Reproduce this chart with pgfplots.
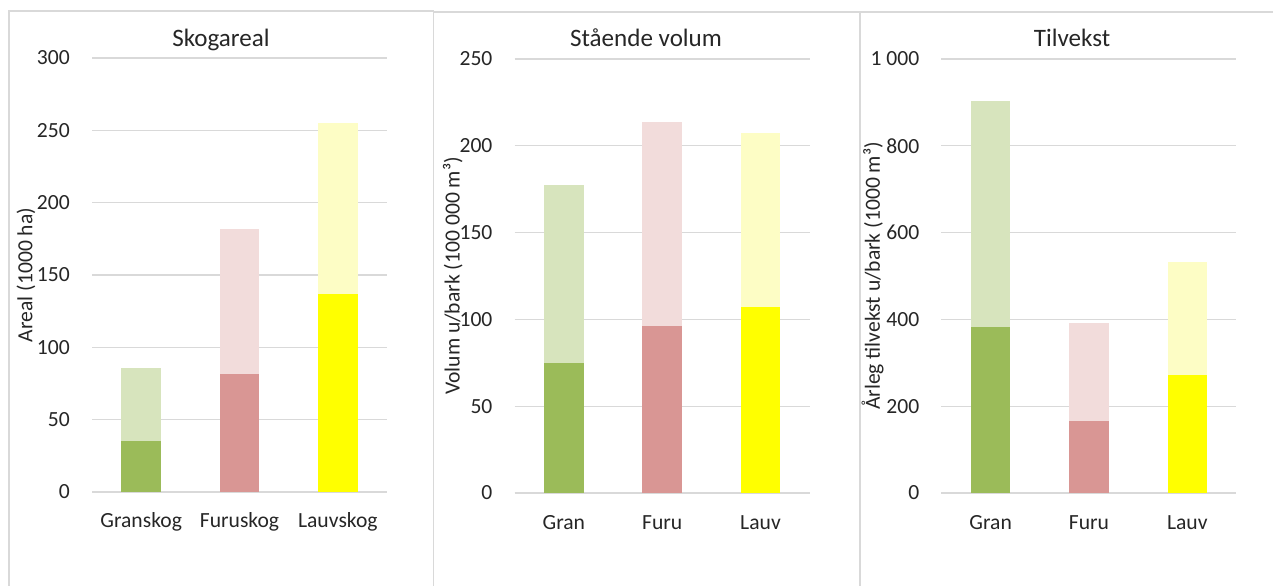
\documentclass[border=0pt]{standalone}
\usepackage{fontspec}
\setmainfont{Carlito}
\usepackage{pgfplots}
\pgfplotsset{compat=1.18}

\definecolor{gridgray}{HTML}{D9D9D9}
\definecolor{txt}{HTML}{262626}
\definecolor{granD}{HTML}{9BBB59}
\definecolor{granL}{HTML}{D7E4BD}
\definecolor{furuD}{HTML}{D99694}
\definecolor{furuL}{HTML}{F2DCDB}
\definecolor{lauvD}{HTML}{FFFF00}
\definecolor{lauvL}{HTML}{FDFDC5}

\tikzset{titlefont/.style={font=\fontsize{18.8}{22}\selectfont, text=txt, anchor=base}}

\pgfplotsset{
  panel/.style={
    scale only axis, width=221.25pt, height=325.5pt,
    ybar, bar shift=0pt, bar width=29.6pt,
    xmin=-0.5, xmax=2.5, ymin=0, enlargelimits=false,
    xtick={0,1,2}, major tick length=0,
    axis x line*=bottom, axis y line*=left,
    y axis line style={draw=none},
    x axis line style={gridgray, line width=0.9pt, -},
    ymajorgrids, grid style={gridgray, line width=0.9pt},
    tick label style={font=\fontsize{16.2}{19}\selectfont, text=txt},
    yticklabel style={anchor=east, inner sep=0pt, xshift=-16.5pt},
    xticklabel style={anchor=base, inner sep=0pt, yshift=-27pt},
    every axis y label/.style={rotate=90, anchor=center,
      font=\fontsize{16.2}{19}\selectfont, text=txt},
  },
}

\begin{document}
\begin{tikzpicture}
\path[use as bounding box] (0,0) rectangle (954.75pt,438.75pt);

% panel frames
\draw[gridgray, line width=1.1pt] (6.75pt,-2pt) -- (6.75pt,430.5pt) -- (325.1pt,430.5pt) -- (325.1pt,-2pt);
\draw[gridgray, line width=1.1pt] (325.1pt,429.75pt) -- (960pt,429.75pt);
\draw[gridgray, line width=1.1pt] (645pt,-2pt) -- (645pt,429.75pt);

% titles
\node[titlefont] at (165.75pt,403.9pt) {Skogareal};
\node[titlefont] at (484.5pt,403.9pt) {Stående volum};
\node[titlefont] at (804pt,403.9pt) {Tilvekst};

% Skogareal
\begin{axis}[panel, at={(69pt,69.75pt)}, anchor=south west,
    ymax=300, ytick={0,50,...,300},
    yticklabels={0,50,100,150,200,250,300},
    xticklabels={Granskog,Furuskog,Lauvskog},
    ylabel={Areal (1000 ha)},
    ylabel style={at={([xshift=-49.5pt]axis description cs:0,0.5)}}]
\addplot[fill=granL, draw=none] coordinates {(0,85.7)};
\addplot[fill=furuL, draw=none] coordinates {(1,182)};
\addplot[fill=lauvL, draw=none] coordinates {(2,255)};
\addplot[fill=granD, draw=none] coordinates {(0,35.5)};
\addplot[fill=furuD, draw=none] coordinates {(1,81.7)};
\addplot[fill=lauvD, draw=none] coordinates {(2,137)};
\end{axis}

% Staaende volum
\begin{axis}[panel, at={(386pt,69pt)}, anchor=south west,
    ymax=250, ytick={0,50,...,250},
    yticklabels={0,50,100,150,200,250},
    xticklabels={Gran,Furu,Lauv},
    ylabel={Volum u/bark (100 000 m³)},
    ylabel style={at={([xshift=-46.5pt]axis description cs:0,0.5)}}]
\addplot[fill=granL, draw=none] coordinates {(0,177.7)};
\addplot[fill=furuL, draw=none] coordinates {(1,213.5)};
\addplot[fill=lauvL, draw=none] coordinates {(2,207.5)};
\addplot[fill=granD, draw=none] coordinates {(0,74.7)};
\addplot[fill=furuD, draw=none] coordinates {(1,96.4)};
\addplot[fill=lauvD, draw=none] coordinates {(2,107.2)};
\end{axis}

% Tilvekst
\begin{axis}[panel, at={(706.1pt,69pt)}, anchor=south west,
    ymax=1000, ytick={0,200,...,1000},
    yticklabels={0,200,400,600,800,1 000},
    xticklabels={Gran,Furu,Lauv},
    ylabel={Årleg tilvekst u/bark (1000 m³)},
    ylabel style={at={([xshift=-51.75pt]axis description cs:0,0.5)}}]
\addplot[fill=granL, draw=none] coordinates {(0,903)};
\addplot[fill=furuL, draw=none] coordinates {(1,391)};
\addplot[fill=lauvL, draw=none] coordinates {(2,532)};
\addplot[fill=granD, draw=none] coordinates {(0,382)};
\addplot[fill=furuD, draw=none] coordinates {(1,167)};
\addplot[fill=lauvD, draw=none] coordinates {(2,273)};
\end{axis}
\end{tikzpicture}
\end{document}
